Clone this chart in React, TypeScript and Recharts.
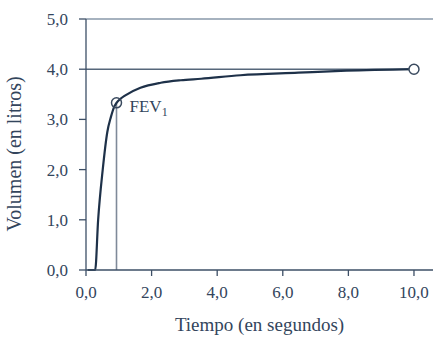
import {
  LineChart,
  Line,
  XAxis,
  YAxis,
  ReferenceLine,
  ReferenceDot,
  Label,
} from "recharts";

// tiempo (s) y volumen (L)
const TIME = [0.05, 0.28, 0.37, 0.51, 0.65, 0.76, 0.86, 0.93, 1.05, 1.2, 1.66, 2.28, 2.89, 3.51, 4.71, 6.47, 7.94, 10];
const VOLUME = [0, 0, 1.0, 2.0, 2.75, 3.05, 3.25, 3.33, 3.41, 3.48, 3.63, 3.73, 3.78, 3.81, 3.88, 3.93, 3.97, 4.0];

const X_TICKS = [0, 2, 4, 6, 8, 10];
const Y_TICKS = [0, 1, 2, 3, 4, 5];

const FEV1 = { t: 0.93, v: 3.33 };
const FVC = { t: 10, v: 4.0 };

const FONT = "Liberation Serif, DejaVu Serif, Times New Roman, serif";
const TEXT = "#33455c";
const AXIS = "#3d4f66";

const data = TIME.map((t, i) => ({ t, v: VOLUME[i] }));
const fmt = (n: number) => n.toFixed(1).replace(".", ",");

const tickStyle = { fill: TEXT, fontSize: 17, style: { fontFamily: FONT } };

export default function App() {
  return (
    <div style={{ position: "absolute", left: 0, top: 0, fontFamily: FONT }}>
      <LineChart
        width={433}
        height={337}
        data={data}
        margin={{ top: 19, right: 0, bottom: 0, left: 0 }}
        style={{ fontFamily: FONT }}
      >
        <XAxis
          type="number"
          dataKey="t"
          domain={[0, 10.58]}
          ticks={X_TICKS}
          tickFormatter={fmt}
          height={67}
          tickSize={6}
          tickMargin={10}
          stroke={AXIS}
          strokeWidth={1.3}
          tick={tickStyle}
        >
          <Label
            content={({ viewBox }: any) => (
              <text
                x={viewBox.x + viewBox.width / 2}
                y={331}
                textAnchor="middle"
                fill={TEXT}
                fontSize={19}
                style={{ fontFamily: FONT }}
              >
                Tiempo (en segundos)
              </text>
            )}
          />
        </XAxis>
        <YAxis
          type="number"
          domain={[0, 5]}
          ticks={Y_TICKS}
          tickFormatter={fmt}
          width={86}
          tickSize={7}
          tickMargin={11}
          stroke={AXIS}
          strokeWidth={1.3}
          tick={tickStyle}
        >
          <Label
            content={() => (
              <text
                x={21}
                y={154}
                transform="rotate(-90 21 154)"
                textAnchor="middle"
                fill={TEXT}
                fontSize={20}
                style={{ fontFamily: FONT }}
              >
                Volumen (en litros)
              </text>
            )}
          />
        </YAxis>

        <ReferenceLine y={5} stroke="#8898aa" strokeWidth={1.5} />
        <ReferenceLine
          segment={[{ x: 0, y: FVC.v }, { x: FVC.t, y: FVC.v }]}
          stroke="#56677b"
          strokeWidth={1.5}
        />
        <ReferenceLine
          segment={[{ x: FEV1.t, y: 0 }, { x: FEV1.t, y: FEV1.v }]}
          stroke="#7f8a99"
          strokeWidth={1.6}
        />

        <Line
          type="monotone"
          dataKey="v"
          stroke="#1e3149"
          strokeWidth={2.2}
          dot={false}
          isAnimationActive={false}
        />

        <ReferenceDot
          x={FEV1.t}
          y={FEV1.v}
          shape={(p: any) => (
            <g>
              <circle cx={p.cx} cy={p.cy} r={5} fill="none" stroke="#3a4a5f" strokeWidth={1.5} />
              <text x={p.cx + 13} y={p.cy + 9} fill={TEXT} fontSize={17} style={{ fontFamily: FONT }}>
                FEV
                <tspan fontSize={12} dy={4}>1</tspan>
              </text>
            </g>
          )}
        />
        <ReferenceDot
          x={FVC.t}
          y={FVC.v}
          r={5}
          fill="#ffffff"
          stroke="#3a4a5f"
          strokeWidth={1.5}
        />
      </LineChart>
    </div>
  );
}
